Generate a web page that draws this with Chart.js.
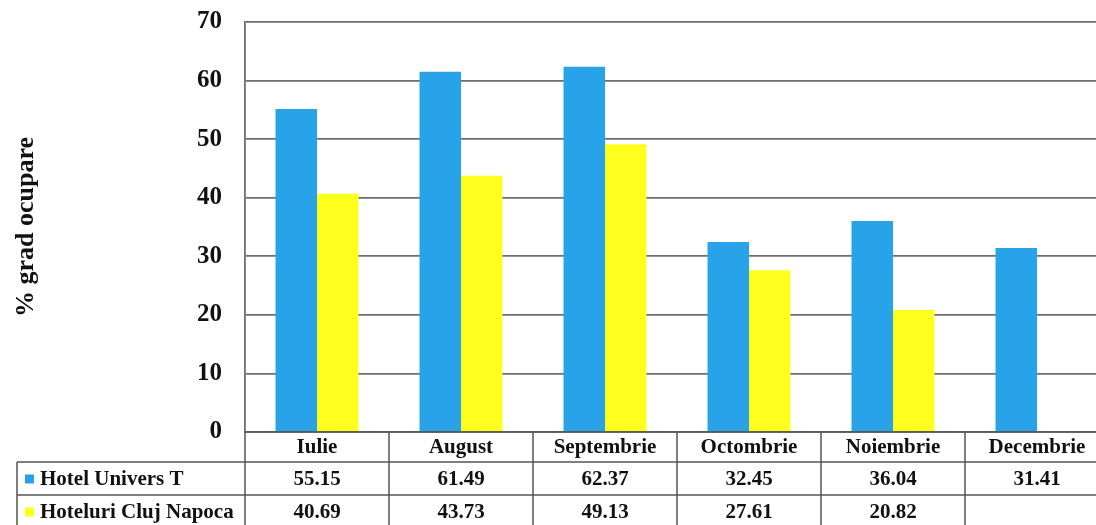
<!DOCTYPE html>
<html>
<head>
<meta charset="utf-8">
<script src="https://cdn.jsdelivr.net/npm/chart.js@4/dist/chart.umd.min.js"></script>
<style>
  html, body { margin: 0; padding: 0; background: #fff; overflow: hidden; }
  #wrap { position: absolute; left: 0; top: 0; width: 1112px; height: 525px; }
</style>
</head>
<body>
<div id="wrap"><canvas id="c"></canvas></div>
<script>
const categories = ['Iulie', 'August', 'Septembrie', 'Octombrie', 'Noiembrie', 'Decembrie'];
const seriesNames = ['Hotel Univers T', 'Hoteluri Cluj Napoca'];
const hotelUnivers = [55.15, 61.49, 62.37, 32.45, 36.04, 31.41];
const hoteluriCluj = [40.69, 43.73, 49.13, 27.61, 20.82, null];
const seriesColors = ['#28A2E8', '#FFFF1E'];
const yTitle = '% grad ocupare';

const FONT = '"Liberation Serif", "Times New Roman", serif';

const tablePlugin = {
  id: 'dataTable',
  afterDraw(chart) {
    const ctx = chart.ctx;
    const area = chart.chartArea;
    const n = categories.length;
    const colW = area.width / n;
    const rowTop = area.bottom;
    const rows = [rowTop, rowTop + 30, rowTop + 63, rowTop + 96];
    const leftX = 17;
    ctx.save();
    ctx.strokeStyle = '#555';
    ctx.lineWidth = 1.5;
    ctx.beginPath();
    ctx.moveTo(area.left, rows[0]); ctx.lineTo(area.right, rows[0]);
    for (let r = 1; r < rows.length; r++) {
      ctx.moveTo(leftX, rows[r]); ctx.lineTo(area.right, rows[r]);
    }
    for (let i = 0; i <= n; i++) {
      const x = area.left + i * colW;
      ctx.moveTo(x, rows[0]); ctx.lineTo(x, rows[3]);
    }
    ctx.moveTo(leftX, rows[1]); ctx.lineTo(leftX, rows[3]);
    ctx.stroke();

    ctx.fillStyle = '#111';
    ctx.font = 'bold 21px ' + FONT;
    ctx.textBaseline = 'middle';
    ctx.textAlign = 'center';
    const xs = chart.scales.x;
    categories.forEach((c, i) => {
      const cx = xs.getPixelForValue(i);
      ctx.fillText(c, cx, (rows[0] + rows[1]) / 2 + 1);
    });
    const data = [hotelUnivers, hoteluriCluj];
    data.forEach((arr, s) => {
      const cy = (rows[s + 1] + rows[s + 2]) / 2 + 1;
      arr.forEach((v, i) => {
        if (v === null || v === undefined) return;
        ctx.fillText(v.toFixed(2), xs.getPixelForValue(i), cy);
      });
    });
    ctx.textAlign = 'left';
    seriesNames.forEach((name, s) => {
      const cy = (rows[s + 1] + rows[s + 2]) / 2 + 1;
      ctx.fillStyle = seriesColors[s];
      ctx.fillRect(25, cy - 5, 9, 9);
      ctx.fillStyle = '#111';
      ctx.fillText(name, 40, cy);
    });
    ctx.restore();
  }
};

new Chart(document.getElementById('c'), {
  type: 'bar',
  data: {
    labels: categories,
    datasets: [
      { label: seriesNames[0], data: hotelUnivers, backgroundColor: seriesColors[0], borderWidth: 0,
        categoryPercentage: 0.576, barPercentage: 1.0 },
      { label: seriesNames[1], data: hoteluriCluj, backgroundColor: seriesColors[1], borderWidth: 0,
        categoryPercentage: 0.576, barPercentage: 1.0 }
    ]
  },
  options: {
    responsive: true,
    maintainAspectRatio: false,
    animation: false,
    layout: { padding: { top: 0, bottom: 93, left: 0, right: 3 } },
    plugins: { legend: { display: false }, tooltip: { enabled: false } },
    scales: {
      x: {
        display: false,
        offset: true
      },
      y: {
        min: 0, max: 70,
        ticks: {
          stepSize: 10,
          color: '#111',
          font: { family: FONT, size: 25, weight: 'bold' },
          padding: 7
        },
        grid: { color: '#6e6e6e', lineWidth: 1.8, drawTicks: true, tickLength: 16, tickColor: 'rgba(0,0,0,0)' },
        border: { display: true, color: '#6e6e6e', width: 1.8 },
        title: {
          display: true,
          text: yTitle,
          color: '#111',
          font: { family: FONT, size: 26, weight: 'bold' },
          padding: { top: 11, bottom: 0 }
        },
        afterFit(scale) { scale.width = 245; }
      }
    }
  },
  plugins: [tablePlugin]
});
</script>
</body>
</html>
